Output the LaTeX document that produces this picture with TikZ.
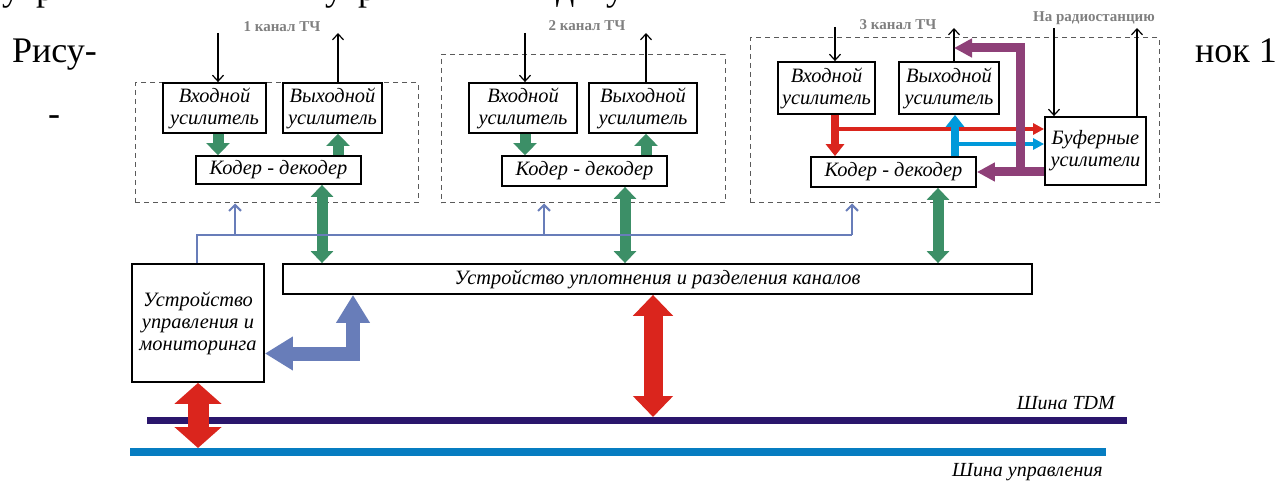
\documentclass[tikz,border=0pt]{standalone}
\usepackage{fontspec}
\setmainfont{Liberation Serif}
\usetikzlibrary{arrows.meta}
\definecolor{cgreen}{RGB}{60,143,103}
\definecolor{cred}{RGB}{218,37,29}
\definecolor{cpurple}{RGB}{142,64,120}
\definecolor{ccyan}{RGB}{0,153,218}
\definecolor{cslate}{RGB}{104,125,185}
\definecolor{cnavy}{RGB}{42,22,108}
\definecolor{cbus}{RGB}{6,125,193}
\definecolor{cgraytxt}{RGB}{128,128,128}
\definecolor{cdash}{RGB}{90,90,90}
\begin{document}
\begin{tikzpicture}[x=1pt,y=-1pt,
  box/.style={draw=black, line width=1.8pt, fill=white, inner sep=0pt, align=center,
    font=\fontsize{20.4}{22}\selectfont\itshape},
  dbox/.style={draw=cdash, line width=1pt, dash pattern=on 5pt off 4pt, inner sep=0pt},
  chlabel/.style={font=\fontsize{15}{17}\selectfont\bfseries, text=cgraytxt, inner sep=0pt},
  bigtxt/.style={font=\fontsize{36}{40}\selectfont, inner sep=0pt},
  bustxt/.style={font=\fontsize{20}{22}\selectfont\itshape, inner sep=0pt},
  thinarrow/.style={line width=1.2pt, -{Straight Barb[length=6pt,width=11pt]}},
  slateline/.style={line width=2pt, draw=cslate},
  slatearrow/.style={line width=2pt, draw=cslate, -{Straight Barb[length=6pt,width=12pt]}},
  gsmall/.style={line width=11pt, draw=cgreen, -{Triangle[length=12pt,width=23pt]}},
  gbig/.style={line width=11pt, draw=cgreen, {Triangle[length=12pt,width=22pt]}-{Triangle[length=12pt,width=22pt]}},
  redbigL/.style={line width=21pt, draw=cred, {Triangle[length=21pt,width=46pt]}-{Triangle[length=21pt,width=46pt]}},
  redbigM/.style={line width=19pt, draw=cred, {Triangle[length=21pt,width=39pt]}-{Triangle[length=21pt,width=39pt]}},
  bluefat/.style={line width=14pt, draw=cslate, line join=miter, {Triangle[length=28pt,width=32pt]}-{Triangle[length=28pt,width=32pt]}},
  vthick/.style={line width=8pt, -{Triangle[length=12pt,width=18pt]}},
  hthin/.style={line width=4pt, -{Triangle[length=11pt,width=11pt]}},
  purplearrow/.style={line width=9pt, draw=cpurple, line join=miter, -{Triangle[length=18pt,width=18pt]}}
]
\useasboundingbox (0,0) rectangle (1275,481);
\fill[white] (0,0) rectangle (1275,481);

% page text (tails of the line above, cut by the page edge)
\node[bigtxt, anchor=base west] (f1) at (2,1) {у};
\node[bigtxt, anchor=base west] (f2) at (36,1) {р};
\node[bigtxt, anchor=base west] (f3) at (325,1) {у};
\node[bigtxt, anchor=base west] (f4) at (358,1) {р};
\node[bigtxt, anchor=base west] (f5) at (556,1) {д};
\node[bigtxt, anchor=base west] (f6) at (606,1) {у};
\node[bigtxt, anchor=base west] (ris) at (12,63) {Рису-};
\node[bigtxt, anchor=base] (hy) at (54,126) {-};
\node[bigtxt, anchor=base west] (nok) at (1195,63) {нок 1};

% dashed channel frames
\node[dbox, minimum width=283pt, minimum height=120pt] (d1) at (276.5,143) {};
\node[dbox, minimum width=284pt, minimum height=148pt] (d2) at (583,129) {};
\node[dbox, minimum width=409pt, minimum height=165pt] (d3) at (954.5,120.5) {};

% channel labels
\node[chlabel] (l1) at (282,27) {1 канал ТЧ};
\node[chlabel] (l2) at (587,26) {2 канал ТЧ};
\node[chlabel] (l3) at (898,25) {3 канал ТЧ};
\node[chlabel] (l4) at (1094,18) {На радиостанцию};

% channel 1
\node[box, minimum width=103pt, minimum height=50pt] (in1) at (214.5,108) {Входной\\усилитель};
\node[box, minimum width=99pt, minimum height=50pt] (out1) at (332.5,108) {Выходной\\усилитель};
\node[box, minimum width=165pt, minimum height=28pt] (kd1) at (278.5,170) {Кодер - декодер};
% channel 2
\node[box, minimum width=108pt, minimum height=50pt] (in2) at (523,108) {Входной\\усилитель};
\node[box, minimum width=108pt, minimum height=50pt] (out2) at (643,108) {Выходной\\усилитель};
\node[box, minimum width=165pt, minimum height=30pt] (kd2) at (584.5,171) {Кодер - декодер};
% channel 3
\node[box, minimum width=97pt, minimum height=52pt] (in3) at (826.5,88) {Входной\\усилитель};
\node[box, minimum width=100pt, minimum height=52pt] (out3) at (949,88) {Выходной\\усилитель};
\node[box, minimum width=165pt, minimum height=30pt] (kd3) at (893.5,172) {Кодер - декодер};
\node[box, minimum width=101pt, minimum height=68pt] (buf) at (1095.5,151) {Буферные\\усилители};

% lower blocks
\node[box, minimum width=132pt, minimum height=118pt] (mon) at (198,323) {Устройство\\управления и\\мониторинга};
\node[box, minimum width=749pt, minimum height=30pt] (mux) at (657.5,279) {Устройство уплотнения и разделения каналов};

% buses
\coordinate (tdmL) at (147,420.5);
\coordinate (tdmR) at (1127,420.5);
\coordinate (shuL) at (130,452);
\coordinate (shuR) at (1106,452);
\draw[line width=7pt, cnavy] (tdmL) -- (tdmR);
\draw[line width=8pt, cbus] (shuL) -- (shuR);
\node[bustxt, anchor=base east] (ltdm) at (1115,409) {Шина TDM};
\node[bustxt, anchor=base east] (lshu) at (1103,476) {Шина управления};

% thin black arrows
\coordinate (t1i) at (218,33);
\coordinate (t1o) at (338,33);
\coordinate (t2i) at (525,33);
\coordinate (t2o) at (646,33);
\coordinate (t3i) at (835,27);
\coordinate (t3o) at (954,28);
\coordinate (t4i) at (1054,28);
\coordinate (t4o) at (1137,28);
\draw[thinarrow] (t1i) -- (t1i |- in1.north);
\draw[thinarrow] (t1o |- out1.north) -- (t1o);
\draw[thinarrow] (t2i) -- (t2i |- in2.north);
\draw[thinarrow] (t2o |- out2.north) -- (t2o);
\draw[thinarrow] (t3i) -- (t3i |- in3.north);
\draw[thinarrow] (t3o |- out3.north) -- (t3o);
\draw[thinarrow] (t4i) -- (t4i |- buf.north);
\draw[thinarrow] (t4o |- buf.north) -- (t4o);

% small green arrows
\draw[gsmall] (in1.south -| t1i) -- (kd1.north -| t1i);
\draw[gsmall] (kd1.north -| t1o) -- (out1.south -| t1o);
\draw[gsmall] (in2.south -| t2i) -- (kd2.north -| t2i);
\draw[gsmall] (kd2.north -| t2o) -- (out2.south -| t2o);

% big green arrows
\coordinate (g1) at (322,0);
\coordinate (g2) at (625,0);
\coordinate (g3) at (938,0);
\draw[gbig] (kd1.south -| g1) -- (mux.north -| g1);
\draw[gbig] (kd2.south -| g2) -- (mux.north -| g2);
\draw[gbig] (kd3.south -| g3) -- (mux.north -| g3);

% slate control lines
\coordinate (bl) at (197,235);
\coordinate (b1) at (235,235);
\coordinate (b2) at (544,235);
\coordinate (b3) at (852,235);
\draw[slateline, line join=miter] (mon.north -| bl) -- (bl) -- (b3);
\draw[slatearrow] (b1) -- (b1 |- d1.south);
\draw[slatearrow] (b2) -- (b2 |- d2.south);
\draw[slatearrow] (b3) -- (b3 |- d3.south);

% fat blue L arrow
\coordinate (lc) at (353,353.5);
\draw[bluefat] (mon.east |- lc) -- (lc) -- (lc |- mux.south);

% red bus arrows
\coordinate (rl) at (198,448);
\coordinate (rm) at (653,417);
\draw[redbigL] (mon.south) -- (rl);
\draw[redbigM] (mux.south -| rm) -- (rm);

% channel 3 coloured arrows
\coordinate (r3) at (835,129);
\coordinate (c3) at (955,144);
\draw[vthick, draw=cred] (in3.south -| r3) -- (kd3.north -| r3);
\draw[hthin, draw=cred] (r3) -- (r3 -| buf.west);
\draw[vthick, draw=ccyan] (kd3.north -| c3) -- (out3.south -| c3);
\draw[hthin, draw=ccyan] (c3) -- (c3 -| buf.west);
\coordinate (pA) at (1020,172);
\coordinate (pB) at (1020,48);
\coordinate (pT) at (954,48);
\draw[purplearrow] (pA -| buf.west) -- (pA -| kd3.east);
\draw[purplearrow] (pA) -- (pB) -- (pT);
\end{tikzpicture}
\end{document}
